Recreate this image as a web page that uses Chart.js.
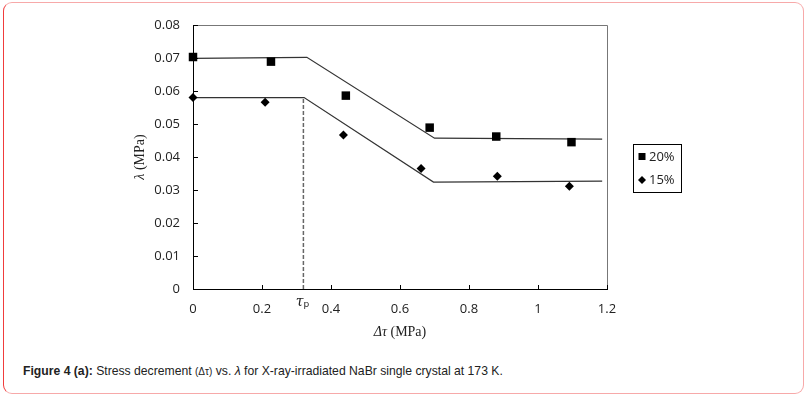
<!DOCTYPE html>
<html>

<head>
  <title>Stress decrement vs lambda</title>
  <script src="https://cdn.jsdelivr.net/npm/chart.js"></script>
  <style>
    body { margin: 0; background: #fff; }
    .frame {
      position: absolute; left: 3px; top: 2px; width: 801px; height: 392px;
      box-sizing: border-box; border: 1px solid #f7a9a9; border-left: 1px solid #f03c3c;
      border-radius: 9px;
    }
    #chart { position: absolute; left: 0; top: 0; }
    .cap {
      position: absolute; left: 23px; top: 364px;
      font: 12.2px "Liberation Sans", Arial, sans-serif; color: #222; white-space: nowrap;
    }
    .cap small { font-size: 10px; }
  </style>
</head>

<body>
  <div class="frame"></div>
  <canvas id="chart" width="811" height="350"></canvas>
  <div class="cap"><b>Figure 4 (a):</b> Stress decrement <small>(Δτ)</small> vs. <i>λ</i> for X-ray-irradiated NaBr single crystal at 173 K.</div>
  <script>
    // measured points
    const seriesLabels = ['20%', '15%'];
    const x20 = [0, 0.226, 0.443, 0.686, 0.879, 1.097];
    const y20 = [0.0703, 0.0689, 0.0586, 0.0489, 0.0462, 0.0445];
    const x15 = [0, 0.209, 0.436, 0.661, 0.882, 1.091];
    const y15 = [0.058, 0.0566, 0.0467, 0.0365, 0.0342, 0.0311];
    // fitted lines
    const fitX20 = [0, 0.33, 0.70, 1.186];
    const fitY20 = [0.0699, 0.0702, 0.0457, 0.0454];
    const fitX15 = [0, 0.322, 0.697, 1.186];
    const fitY15 = [0.058, 0.058, 0.0324, 0.0327];
    // tau_p marker
    const tauP = 0.32;
    const tauPLevel = 0.058;

    const pts = (xs, ys) => xs.map((x, i) => ({ x: x, y: ys[i] }));
    const tickFont = { family: '"Open Sans", sans-serif', size: 13 };

    const extras = {
      id: 'extras',
      afterDraw(chart) {
        const ctx = chart.ctx;
        const a = chart.chartArea;
        const xs = chart.scales.x, ys = chart.scales.y;
        ctx.save();
        // top and right frame
        ctx.strokeStyle = '#777';
        ctx.lineWidth = 1;
        ctx.beginPath();
        ctx.moveTo(a.left, a.top + 0.5);
        ctx.lineTo(a.right + 0.5, a.top + 0.5);
        ctx.lineTo(a.right + 0.5, a.bottom);
        ctx.stroke();
        // inside ticks
        ctx.strokeStyle = '#000';
        ctx.beginPath();
        ys.ticks.forEach(t => {
          const py = Math.round(ys.getPixelForValue(t.value)) + 0.5;
          ctx.moveTo(a.left, py);
          ctx.lineTo(a.left + 5, py);
        });
        xs.ticks.forEach(t => {
          const px = Math.round(xs.getPixelForValue(t.value)) + 0.5;
          ctx.moveTo(px, a.bottom);
          ctx.lineTo(px, a.bottom - 4);
        });
        ctx.stroke();
        // tau_p label
        const tx = xs.getPixelForValue(tauP);
        ctx.fillStyle = '#222';
        ctx.textBaseline = 'middle';
        ctx.textAlign = 'right';
        ctx.font = 'italic 14px "DejaVu Serif", serif';
        ctx.fillText('τ', tx, a.bottom + 13);
        ctx.textAlign = 'left';
        ctx.font = '9px "DejaVu Sans", sans-serif';
        ctx.fillText('p', tx, a.bottom + 16);
        // axis titles
        const serif = '"Liberation Serif", serif';
        const xt1 = 'Δτ', xt2 = ' (MPa)';
        ctx.font = 'italic 14px ' + serif;
        const w1 = ctx.measureText(xt1).width;
        ctx.font = '14px ' + serif;
        const w2 = ctx.measureText(xt2).width;
        let sx = (a.left + a.right) / 2 - (w1 + w2) / 2;
        ctx.font = 'italic 14px ' + serif;
        ctx.fillText(xt1, sx, 332);
        ctx.font = '14px ' + serif;
        ctx.fillText(xt2, sx + w1, 332);
        ctx.translate(140, (a.top + a.bottom) / 2);
        ctx.rotate(-Math.PI / 2);
        const yt1 = 'λ', yt2 = ' (MPa)';
        ctx.font = 'italic 14px ' + serif;
        const v1 = ctx.measureText(yt1).width;
        ctx.font = '14px ' + serif;
        const v2 = ctx.measureText(yt2).width;
        sx = -(v1 + v2) / 2;
        ctx.font = 'italic 14px ' + serif;
        ctx.fillText(yt1, sx, 0);
        ctx.font = '14px ' + serif;
        ctx.fillText(yt2, sx + v1, 0);
        ctx.restore();
        // legend
        ctx.save();
        ctx.strokeStyle = '#000';
        ctx.lineWidth = 1;
        ctx.strokeRect(633.5, 144.5, 48, 48);
        ctx.fillStyle = '#000';
        ctx.fillRect(638.5, 153, 7, 7);
        ctx.beginPath();
        ctx.moveTo(642, 176); ctx.lineTo(646, 180); ctx.lineTo(642, 184); ctx.lineTo(638, 180);
        ctx.closePath(); ctx.fill();
        ctx.font = '13px "Open Sans", sans-serif';
        ctx.fillStyle = '#222';
        ctx.textBaseline = 'middle';
        ctx.fillText(seriesLabels[0], 649, 157);
        ctx.fillText(seriesLabels[1], 649, 180);
        ctx.restore();
      }
    };

    new Chart(document.getElementById('chart'), {
      type: 'scatter',
      data: {
        datasets: [{
          label: seriesLabels[0],
          data: pts(x20, y20),
          pointStyle: 'rect',
          pointRadius: 6,
          backgroundColor: '#000',
          borderColor: '#000',
          borderWidth: 0,
          clip: false
        }, {
          label: seriesLabels[1],
          data: pts(x15, y15),
          pointStyle: 'rectRot',
          pointRadius: 4.5,
          backgroundColor: '#000',
          borderColor: '#000',
          borderWidth: 0,
          clip: false
        }, {
          label: 'fit 20%',
          data: pts(fitX20, fitY20),
          showLine: true,
          pointRadius: 0,
          borderColor: '#333',
          borderWidth: 1.2
        }, {
          label: 'fit 15%',
          data: pts(fitX15, fitY15),
          showLine: true,
          pointRadius: 0,
          borderColor: '#333',
          borderWidth: 1.2
        }, {
          label: 'tau p',
          data: [{ x: tauP, y: 0 }, { x: tauP, y: tauPLevel }],
          showLine: true,
          pointRadius: 0,
          borderColor: '#666',
          borderWidth: 1.5,
          borderDash: [4, 2]
        }]
      },
      options: {
        responsive: false,
        animation: false,
        layout: { padding: { left: 133, right: 204, top: 25, bottom: 11 } },
        plugins: {
          legend: { display: false },
          tooltip: { enabled: false }
        },
        scales: {
          x: {
            type: 'linear',
            min: 0,
            max: 1.2,
            grid: { display: false, drawTicks: false },
            border: { display: true, color: '#000', width: 1 },
            afterFit: s => { s.height = 50; },
            ticks: {
              stepSize: 0.2,
              padding: 12,
              color: '#222',
              font: tickFont,
              maxRotation: 0,
              callback: v => v === 0 ? '0' : String(Number(v.toFixed(1)))
            }
          },
          y: {
            min: 0,
            max: 0.08,
            grid: { display: false, drawTicks: false },
            border: { display: true, color: '#000', width: 1 },
            afterFit: s => { s.width = 60; },
            ticks: {
              stepSize: 0.01,
              padding: 13,
              color: '#222',
              font: tickFont,
              callback: v => v === 0 ? '0' : v.toFixed(2)
            }
          }
        }
      },
      plugins: [extras]
    });
  </script>
</body>

</html>
